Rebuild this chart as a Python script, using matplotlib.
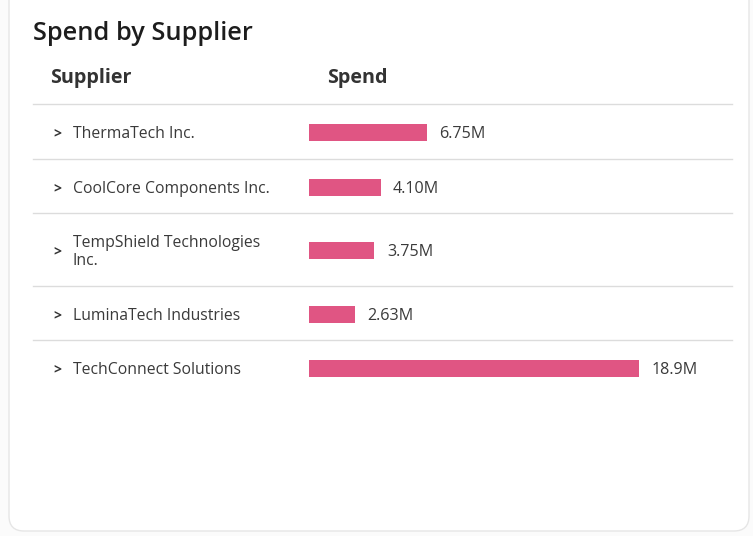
import matplotlib
matplotlib.use("Agg")
import matplotlib.pyplot as plt
from matplotlib.patches import FancyBboxPatch

suppliers = ["ThermaTech Inc.", "CoolCore Components Inc.", "TempShield Technologies\nInc.",
             "LuminaTech Industries", "TechConnect Solutions"]
spend_m = [6.75, 4.10, 3.75, 2.63, 18.9]
spend_labels = ["6.75M", "4.10M", "3.75M", "2.63M", "18.9M"]

W, H = 753, 536
fig = plt.figure(figsize=(W / 100, H / 100), dpi=100)
fig.patch.set_facecolor("#fbfbfb")

def fx(x):
    return x / W

def fy(y):
    return 1 - y / H

# card
card = FancyBboxPatch((fx(9), fy(531)), fx(740), 1.2, boxstyle="round,pad=0,rounding_size=0.02",
                      transform=fig.transFigure, facecolor="white", edgecolor="#e6e6e6", lw=1.0,
                      mutation_aspect=W / H, zorder=-5)
fig.patches.append(card)

font = "Open Sans"
fig.text(fx(33), fy(33), "Spend by Supplier", fontsize=18.3, fontweight="semibold", color="#1d1d1d",
         family=font, va="center", ha="left")
fig.text(fx(50), fy(78), "Supplier", fontsize=14.2, fontweight="bold", color="#333333",
         family=font, va="center", ha="left")
fig.text(fx(327), fy(78), "Spend", fontsize=14.2, fontweight="bold", color="#333333",
         family=font, va="center", ha="left")

# bar axes: x from 309 px, 1M ~ 17.46 px
px_per_m = 17.46
ax_left, ax_right = 309, 740
ax = fig.add_axes([fx(ax_left), 0, fx(ax_right - ax_left), 1], zorder=2)
ax.set_xlim(0, (ax_right - ax_left) / px_per_m)
ax.set_ylim(H, 0)
ax.axis("off")

row_y = [132, 187, 250, 314, 368]
sep_y = [104, 159, 213, 286, 340]

for y in sep_y:
    fig.add_artist(plt.Line2D([fx(33), fx(732)], [fy(y), fy(y)], color="#dcdcdc", lw=1.0,
                              transform=fig.transFigure))

ax.barh(row_y, spend_m, height=17, color="#e05583", edgecolor="none")
for y, v, lab in zip(row_y, spend_m, spend_labels):
    ax.annotate(lab, (v, y), xytext=(9, -1.5), textcoords="offset points", va="center", ha="left",
                fontsize=11.6, color="#3a3a3a", family=font)

for y, name in zip(row_y, suppliers):
    fig.text(fx(53), fy(y + 1), ">", fontsize=10, fontweight="bold", color="#333333", family=font,
             va="center", ha="left")
    fig.text(fx(73), fy(y + 2), name, fontsize=11.3, color="#3a3a3a", family=font,
             va="center", ha="left", linespacing=1.1)

fig.savefig("out.png", dpi=100, facecolor=fig.get_facecolor())
